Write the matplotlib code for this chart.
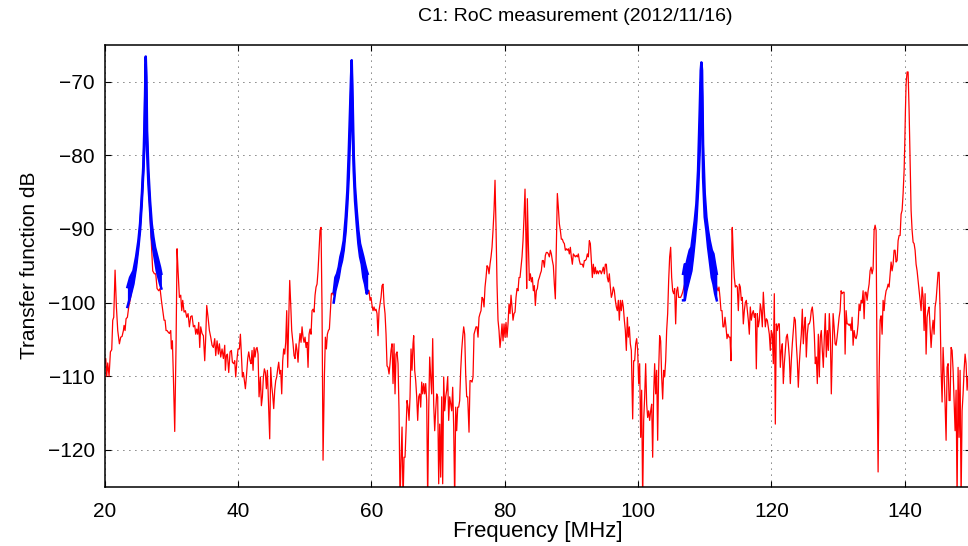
import numpy as np
import matplotlib
matplotlib.use("Agg")
import matplotlib.pyplot as plt

plt.rcParams["font.family"] = ["Liberation Sans", "DejaVu Sans"]

# red trace: broadband transfer function, (MHz, dB)
red_20_38 = [(20.0, -108.3), (20.15, -107.6), (20.3, -110.0), (20.45, -108.2), (20.65, -110.0), (20.85, -106.7),
             (21.05, -106.4), (21.2, -102.4), (21.35, -102.0), (21.55, -95.6), (21.75, -100.6), (21.95, -103.8),
             (22.2, -105.6), (22.4, -104.7), (22.6, -104.6), (22.8, -103.8), (22.9, -103.1), (23.05, -103.8),
             (23.2, -102.2), (23.4, -102.0), (23.6, -100.6), (23.8, -99.7), (24.05, -98.4), (24.3, -97.2),
             (24.55, -96.1), (24.8, -94.5), (25.05, -92.5), (25.25, -90.2), (25.45, -88.0), (25.65, -85.2),
             (25.8, -82.5), (25.95, -78.5), (26.1, -73.9), (26.2, -68.5), (26.35, -76.2), (26.55, -83.0),
             (26.75, -87.5), (26.9, -90.2), (27.05, -92.9), (27.2, -95.7), (27.45, -96.1), (27.65, -96.1),
             (27.85, -98.1), (28.1, -98.4), (28.3, -98.1), (28.5, -99.7), (28.7, -101.1), (28.9, -102.4),
             (29.05, -102.4), (29.2, -103.8), (29.35, -103.8), (29.5, -104.0), (29.7, -104.2), (29.9, -103.8),
             (30.0, -106.3), (30.15, -105.2), (30.3, -110.1), (30.5, -117.5), (30.7, -105.6), (30.85, -92.7),
             (31.0, -95.7), (31.2, -99.3), (31.4, -99.0), (31.55, -101.1), (31.7, -99.7), (31.9, -101.3),
             (32.1, -101.1), (32.3, -102.0), (32.5, -101.5), (32.7, -103.3), (32.9, -101.9), (33.1, -101.8),
             (33.3, -103.3), (33.5, -103.1), (33.65, -104.3), (33.8, -103.6), (33.95, -104.3), (34.1, -102.7),
             (34.25, -106.1), (34.4, -103.3), (34.6, -104.2), (34.8, -104.5), (35.0, -107.9), (35.15, -104.7),
             (35.3, -100.4), (35.5, -102.0), (35.7, -103.8), (35.9, -104.7), (36.1, -105.8), (36.3, -106.1),
             (36.5, -104.9), (36.65, -107.2), (36.85, -105.2), (37.05, -107.0), (37.2, -105.6), (37.4, -107.4),
             (37.6, -106.3), (37.8, -107.6), (38.0, -105.8)]

red_38_54 = [(38.1, -109.2), (38.25, -107.2), (38.4, -107.0), (38.6, -109.5), (38.8, -106.7), (39.0, -106.5),
             (39.15, -108.1), (39.35, -108.3), (39.5, -107.9), (39.65, -110.1), (39.85, -107.6), (40.0, -106.3),
             (40.2, -106.3), (40.35, -104.3), (40.5, -107.0), (40.65, -110.1), (40.8, -109.5), (40.95, -110.6),
             (41.1, -111.7), (41.25, -110.1), (41.45, -107.6), (41.6, -106.7), (41.8, -107.9), (41.95, -108.3),
             (42.1, -106.5), (42.25, -109.2), (42.4, -106.1), (42.55, -107.4), (42.7, -106.3), (42.85, -106.1),
             (43.0, -107.0), (43.15, -112.8), (43.35, -110.1), (43.5, -114.0), (43.65, -112.8), (43.8, -110.1),
             (43.95, -109.0), (44.1, -109.5), (44.25, -111.7), (44.4, -109.2), (44.55, -113.1), (44.75, -118.5),
             (44.9, -108.8), (45.05, -111.3), (45.2, -112.6), (45.35, -114.4), (45.5, -111.9), (45.65, -110.6),
             (45.8, -110.1), (45.95, -109.0), (46.1, -108.1), (46.25, -109.7), (46.4, -109.2), (46.55, -112.4),
             (46.7, -107.9), (46.85, -106.3), (47.0, -107.0), (47.15, -105.4), (47.3, -101.1), (47.45, -108.8),
             (47.6, -102.4), (47.75, -97.0), (47.9, -100.2), (48.05, -103.8), (48.25, -105.6), (48.4, -107.2),
             (48.55, -107.6), (48.7, -105.6), (48.85, -106.5), (49.0, -108.1), (49.15, -105.6), (49.3, -104.2),
             (49.45, -105.4), (49.6, -103.3), (49.75, -104.7), (49.9, -105.4), (50.05, -104.7), (50.2, -106.1),
             (50.35, -105.4), (50.5, -108.8), (50.65, -104.3), (50.8, -103.6), (50.95, -104.3), (51.1, -101.1),
             (51.25, -100.9), (51.4, -101.3), (51.55, -99.0), (51.7, -97.9), (51.85, -97.5), (52.0, -95.7),
             (52.15, -92.9), (52.3, -90.2), (52.45, -89.8), (52.6, -101.1), (52.75, -121.4), (52.95, -110.1),
             (53.1, -104.7), (53.25, -106.3), (53.4, -104.3), (53.55, -103.8), (53.7, -103.6), (53.85, -101.1),
             (54.0, -98.8), (54.15, -98.7), (54.3, -99.0)]

red_54_75 = [(54.6, -97.5), (55.1, -96.1), (55.6, -93.8), (56.1, -91.1), (56.4, -86.2), (56.6, -82.1),
             (56.8, -76.7), (56.95, -71.7), (57.05, -67.6), (57.2, -73.9), (57.35, -80.7), (57.55, -85.2),
             (57.8, -88.4), (58.05, -91.1), (58.3, -92.9), (58.55, -93.8), (58.8, -95.2), (59.05, -96.1),
             (59.3, -97.5), (59.5, -98.8), (59.65, -98.4), (59.8, -99.7), (59.95, -99.3), (60.1, -100.4),
             (60.25, -101.1), (60.4, -100.6), (60.55, -101.1), (60.7, -100.9), (60.85, -101.5), (61.0, -104.5),
             (61.15, -101.1), (61.3, -100.2), (61.45, -99.3), (61.6, -97.7), (61.75, -97.5), (61.9, -100.2),
             (62.05, -101.5), (62.2, -104.3), (62.35, -108.6), (62.5, -108.8), (62.65, -109.7), (62.8, -108.3),
             (62.95, -106.5), (63.1, -105.6), (63.25, -111.0), (63.4, -105.6), (63.55, -112.4), (63.7, -107.0),
             (63.85, -106.7), (64.0, -108.3), (64.15, -114.7), (64.3, -127.0), (64.45, -121.4), (64.6, -116.9),
             (64.75, -127.0), (64.9, -121.0), (65.05, -121.0), (65.2, -117.4), (65.35, -113.3), (65.5, -114.2),
             (65.65, -116.0), (65.8, -112.8), (65.95, -106.3), (66.1, -109.2), (66.25, -105.6), (66.35, -104.5),
             (66.5, -109.2), (66.65, -110.6), (66.8, -112.8), (66.95, -116.0), (67.1, -112.8), (67.25, -112.4),
             (67.4, -114.2), (67.55, -110.8), (67.7, -112.4), (67.85, -111.0), (68.0, -112.4), (68.15, -111.0),
             (68.3, -113.3), (68.45, -127.0), (68.6, -114.7), (68.75, -107.4), (68.9, -110.1), (69.05, -112.4),
             (69.2, -104.9), (69.35, -113.8), (69.5, -117.4), (69.65, -114.7), (69.8, -112.4), (69.95, -112.8),
             (70.1, -124.6), (70.25, -116.5), (70.4, -123.7), (70.55, -112.8), (70.7, -124.6), (70.85, -110.1),
             (71.0, -114.7), (71.15, -112.8), (71.3, -111.9), (71.45, -110.1), (71.6, -116.0), (71.75, -112.8),
             (71.9, -113.8), (72.05, -114.7), (72.2, -111.5), (72.35, -116.9), (72.5, -127.0), (72.65, -114.2),
             (72.8, -117.4), (72.95, -114.2), (73.1, -114.2), (73.25, -113.3), (73.4, -109.2), (73.55, -106.5),
             (73.7, -104.7), (73.85, -103.3), (74.0, -104.3), (74.15, -109.7), (74.3, -112.8), (74.45, -112.8)]

red_75_93 = [(74.65, -117.6), (74.8, -110.6), (74.95, -110.6), (75.1, -110.8), (75.25, -110.1), (75.4, -104.3),
             (75.55, -103.8), (75.7, -103.3), (75.85, -103.3), (76.0, -104.7), (76.15, -102.0), (76.3, -101.5),
             (76.45, -101.1), (76.6, -99.3), (76.75, -99.5), (76.9, -100.6), (77.05, -97.9), (77.2, -96.6),
             (77.35, -95.0), (77.5, -95.2), (77.65, -96.1), (77.8, -94.8), (77.95, -93.8), (78.1, -92.5),
             (78.25, -90.2), (78.4, -87.5), (78.55, -83.4), (78.7, -89.8), (78.85, -97.5), (79.0, -102.4),
             (79.15, -103.8), (79.3, -106.1), (79.45, -104.7), (79.6, -102.9), (79.75, -105.2), (79.9, -102.9),
             (80.05, -104.7), (80.2, -102.7), (80.35, -104.7), (80.5, -102.9), (80.65, -100.2), (80.8, -101.5),
             (80.95, -99.0), (81.1, -100.6), (81.25, -102.4), (81.4, -101.5), (81.55, -101.3), (81.7, -99.3),
             (81.85, -98.1), (82.0, -98.4), (82.15, -96.6), (82.3, -96.6), (82.45, -95.2), (82.6, -93.8),
             (82.75, -91.6), (82.9, -88.4), (83.05, -84.6), (83.2, -92.0), (83.3, -98.1), (83.4, -85.9),
             (83.55, -92.0), (83.7, -97.0), (83.85, -96.1), (84.0, -97.2), (84.15, -96.6), (84.3, -98.4),
             (84.45, -97.7), (84.6, -100.4), (84.75, -98.4), (84.9, -98.1), (85.05, -97.0), (85.2, -96.6),
             (85.35, -96.1), (85.5, -95.7), (85.65, -94.3), (85.8, -94.3), (85.95, -95.2), (86.1, -93.6),
             (86.25, -93.2), (86.4, -93.2), (86.55, -93.4), (86.7, -93.8), (86.85, -92.9), (87.0, -93.4),
             (87.15, -94.3), (87.3, -95.0), (87.45, -97.5), (87.6, -99.5), (87.75, -92.5), (87.9, -85.2),
             (88.05, -87.1), (88.2, -89.3), (88.35, -90.2), (88.5, -91.4), (88.65, -91.4), (88.8, -91.8),
             (88.95, -92.0), (89.1, -92.9), (89.25, -92.7), (89.4, -92.9), (89.55, -92.7), (89.7, -93.4),
             (89.85, -92.5), (90.0, -93.8), (90.15, -94.8), (90.3, -93.4), (90.45, -93.6), (90.6, -93.8),
             (90.75, -93.6), (90.9, -93.8), (91.05, -93.4), (91.2, -94.3), (91.35, -94.8), (91.5, -94.8),
             (91.65, -94.8), (91.8, -95.2), (91.95, -94.3), (92.1, -94.3), (92.25, -94.1), (92.4, -93.4),
             (92.55, -93.8), (92.7, -91.6), (92.85, -92.0)]

red_93_112 = [(93.0, -94.3), (93.15, -96.6), (93.3, -94.8), (93.45, -96.1), (93.6, -95.2), (93.75, -96.1),
              (93.9, -95.7), (94.05, -96.1), (94.2, -95.7), (94.35, -95.7), (94.5, -96.1), (94.65, -95.7),
              (94.8, -95.2), (94.95, -96.1), (95.1, -94.8), (95.25, -94.8), (95.4, -96.6), (95.55, -97.2),
              (95.7, -96.1), (95.85, -97.9), (96.0, -99.3), (96.15, -98.8), (96.3, -97.9), (96.45, -98.4),
              (96.6, -99.7), (96.75, -100.6), (96.9, -101.1), (97.05, -99.7), (97.2, -102.4), (97.35, -99.7),
              (97.5, -101.1), (97.65, -99.7), (97.8, -100.6), (97.95, -102.4), (98.1, -103.8), (98.25, -106.5),
              (98.4, -102.0), (98.55, -104.7), (98.7, -103.3), (98.85, -105.6), (99.0, -106.5), (99.2, -115.8),
              (99.35, -107.9), (99.5, -107.9), (99.65, -105.6), (99.8, -104.9), (99.95, -106.5), (100.1, -111.0),
              (100.25, -108.3), (100.4, -118.3), (100.55, -111.9), (100.7, -127.0), (100.85, -116.0), (101.0, -112.8),
              (101.15, -108.3), (101.3, -113.8), (101.45, -115.6), (101.6, -114.7), (101.75, -116.0), (101.9, -114.7),
              (102.05, -113.8), (102.2, -121.0), (102.35, -112.4), (102.5, -108.3), (102.65, -112.4), (102.8, -109.2),
              (102.95, -118.7), (103.1, -109.2), (103.25, -104.5), (103.4, -105.2), (103.55, -110.1), (103.7, -113.1),
              (103.85, -109.2), (104.0, -110.1), (104.15, -107.9), (104.3, -103.8), (104.45, -101.5), (104.6, -97.0),
              (104.75, -93.8), (104.9, -92.5), (105.05, -96.6), (105.2, -98.4), (105.35, -98.8), (105.5, -98.1),
              (105.65, -102.9), (105.8, -98.4), (105.95, -97.9), (106.1, -99.3), (106.25, -99.3), (106.4, -99.3),
              (106.55, -99.0), (106.7, -98.6), (107.0, -97.5), (107.5, -95.7), (108.0, -93.8), (108.5, -90.2),
              (109.0, -83.4), (109.3, -76.2), (109.5, -68.5), (109.7, -78.5), (110.0, -86.6), (110.25, -89.3),
              (110.5, -91.4), (110.8, -93.4), (111.07, -94.8), (111.32, -95.7), (111.57, -96.6), (111.82, -97.9)]

red_112_129 = [(112.0, -98.4), (112.15, -97.9), (112.3, -99.3), (112.45, -101.1), (112.6, -101.1), (112.75, -103.3),
               (112.9, -103.3), (113.05, -102.0), (113.2, -103.3), (113.35, -104.9), (113.5, -104.3), (113.65, -104.7),
               (113.8, -104.7), (113.95, -107.9), (114.1, -90.2), (114.15, -89.8), (114.3, -93.8), (114.45, -96.6),
               (114.6, -97.9), (114.75, -97.7), (114.9, -97.9), (115.05, -101.1), (115.2, -97.5), (115.35, -97.9),
               (115.5, -99.7), (115.65, -99.3), (115.8, -102.9), (115.95, -101.1), (116.1, -100.0), (116.25, -99.7),
               (116.4, -101.1), (116.55, -102.4), (116.7, -104.3), (116.85, -100.6), (117.0, -102.4), (117.15, -101.5),
               (117.3, -101.1), (117.45, -102.0), (117.6, -101.5), (117.75, -109.0), (117.9, -101.5), (118.05, -103.3),
               (118.2, -102.4), (118.35, -100.2), (118.5, -101.1), (118.65, -103.3), (118.8, -98.6), (118.95, -101.1),
               (119.1, -103.3), (119.25, -102.2), (119.4, -102.4), (119.55, -103.3), (119.7, -104.3), (119.85, -106.5),
               (120.0, -103.8), (120.15, -104.3), (120.3, -108.3), (120.45, -98.8), (120.6, -116.5), (120.75, -102.9),
               (120.9, -103.8), (121.05, -102.9), (121.2, -102.9), (121.35, -108.8), (121.5, -106.5), (121.65, -105.6),
               (121.8, -111.0), (121.95, -108.3), (122.1, -106.5), (122.25, -104.7), (122.4, -104.3), (122.55, -105.6),
               (122.7, -107.4), (122.85, -111.0), (123.0, -107.9), (123.15, -105.6), (123.3, -103.8), (123.45, -102.0),
               (123.6, -102.4), (123.75, -105.6), (123.9, -107.9), (124.05, -111.5), (124.2, -108.3), (124.35, -106.1),
               (124.5, -104.3), (124.65, -100.9), (124.8, -105.6), (124.95, -103.3), (125.1, -102.0), (125.25, -107.4),
               (125.4, -104.3), (125.55, -102.9), (125.7, -102.9), (125.85, -102.4), (126.0, -101.1), (126.15, -100.6),
               (126.3, -102.0), (126.45, -104.3), (126.6, -108.3), (126.75, -107.4), (126.9, -111.0), (127.05, -104.3),
               (127.2, -110.1), (127.35, -104.7), (127.5, -103.8), (127.65, -106.5), (127.8, -108.8), (127.95, -104.7),
               (128.1, -101.5), (128.25, -107.4), (128.4, -103.8), (128.55, -106.5), (128.7, -101.5), (128.85, -104.3),
               (129.0, -112.4)]

red_129_150 = [(129.27, -101.5), (129.42, -103.3), (129.57, -105.6), (129.72, -105.8), (129.87, -104.7), (130.02, -103.3),
               (130.17, -102.0), (130.32, -101.1), (130.47, -98.4), (130.62, -98.8), (130.77, -98.6), (130.92, -98.6),
               (131.07, -107.0), (131.22, -101.1), (131.37, -102.9), (131.52, -102.9), (131.67, -103.1), (131.82, -102.9),
               (131.97, -103.8), (132.12, -102.0), (132.27, -105.8), (132.42, -103.8), (132.57, -104.7), (132.72, -104.9),
               (132.87, -104.3), (133.02, -102.9), (133.17, -100.2), (133.32, -101.1), (133.47, -99.7), (133.62, -100.0),
               (133.77, -98.4), (133.92, -102.2), (134.07, -98.6), (134.22, -98.6), (134.37, -99.7), (134.52, -98.4),
               (134.67, -97.5), (134.82, -95.7), (134.97, -95.2), (135.12, -96.1), (135.27, -95.4), (135.42, -90.2),
               (135.57, -89.5), (135.72, -90.2), (135.87, -110.1), (136.02, -123.0), (136.17, -110.1), (136.32, -102.4),
               (136.47, -101.8), (136.62, -104.3), (136.77, -99.7), (136.92, -101.1), (137.07, -99.3), (137.22, -98.4),
               (137.37, -98.1), (137.52, -97.5), (137.67, -97.9), (137.82, -96.1), (137.97, -94.5), (138.12, -95.7),
               (138.27, -94.8), (138.42, -92.9), (138.57, -92.9), (138.72, -94.5), (138.87, -94.3), (139.02, -91.6),
               (139.17, -90.9), (139.32, -90.9), (139.47, -88.0), (139.62, -87.5), (139.77, -85.2), (139.92, -82.1),
               (140.02, -78.5), (140.12, -73.9), (140.22, -70.3), (140.37, -68.7), (140.52, -68.7), (140.67, -73.9),
               (140.82, -80.7), (140.97, -87.5), (141.12, -90.2), (141.27, -91.8), (141.42, -92.0), (141.57, -92.9),
               (141.72, -94.8), (141.87, -95.7), (142.02, -97.0), (142.17, -98.4), (142.32, -99.7), (142.47, -101.1),
               (142.62, -97.9), (142.77, -99.3), (142.92, -103.8), (143.07, -98.8), (143.22, -107.0), (143.37, -102.0),
               (143.52, -101.1), (143.67, -100.6), (143.82, -103.3), (143.97, -106.1), (144.12, -103.8), (144.27, -102.4),
               (144.42, -104.3), (144.57, -100.6), (144.72, -99.7), (144.87, -97.9), (145.02, -95.9), (145.17, -95.9),
               (145.32, -101.1), (145.47, -109.2), (145.62, -113.5), (145.77, -106.1), (145.92, -109.7), (146.07, -113.8),
               (146.22, -118.7), (146.37, -108.8), (146.52, -108.3), (146.67, -113.3), (146.82, -113.3), (146.97, -106.1),
               (147.12, -106.5), (147.27, -109.2), (147.42, -113.3), (147.57, -117.4), (147.72, -111.9), (147.87, -127.0),
               (148.02, -108.8), (148.17, -118.3), (148.32, -109.2), (148.47, -127.0), (148.62, -114.7), (148.77, -112.4),
               (148.92, -109.2), (149.07, -107.0), (149.22, -108.3), (149.37, -111.9), (149.52, -110.1), (149.8, -111.5),
               (150.0, -110.5)]

# blue traces: fine sweeps around the three resonances (band between upper and lower edge)
blue1_f = [23.4, 23.8, 24.3, 24.7, 25.05, 25.3, 25.55, 25.8, 25.95, 26.05, 26.15, 26.25, 26.35, 26.55,
           26.8, 27.05, 27.3, 27.55, 27.8, 28.05, 28.3, 28.5]
blue1_hi = [-97.9, -96.6, -95.7, -93.8, -91.6, -89.3, -85.7, -81.2, -76.2, -71.7, -66.6, -69.4, -76.7, -82.1,
            -86.2, -89.3, -91.1, -92.5, -93.4, -94.3, -95.2, -96.1]
blue1_lo = [-100.6, -99.3, -97.5, -95.2, -92.5, -90.2, -86.6, -82.1, -78.5, -73.9, -67.6, -73.9, -79.4, -83.9,
            -87.5, -91.1, -92.9, -94.3, -95.7, -96.6, -97.5, -98.1]

blue2_f = [54.35, 54.6, 54.85, 55.1, 55.35, 55.6, 55.85, 56.15, 56.4, 56.6, 56.8, 56.95, 57.05, 57.2,
           57.35, 57.55, 57.8, 58.05, 58.3, 58.55, 58.8, 59.05, 59.3, 59.45]
blue2_hi = [-98.6, -96.6, -96.1, -95.2, -93.8, -92.9, -91.6, -88.4, -84.8, -79.8, -73.9, -69.4, -67.1, -73.0,
            -79.8, -84.3, -87.5, -90.2, -92.0, -92.9, -93.8, -94.8, -95.7, -96.1]
blue2_lo = [-100.0, -98.4, -97.5, -96.6, -95.2, -94.3, -92.9, -90.2, -86.6, -83.0, -77.6, -72.1, -68.5, -76.7,
            -82.1, -86.2, -89.3, -92.0, -93.8, -94.8, -96.6, -97.5, -98.8, -98.4]

blue3_f = [106.76, 107.01, 107.26, 107.51, 107.76, 108.01, 108.26, 108.51, 108.76, 109.01, 109.26, 109.41,
           109.51, 109.61, 109.76, 110.01, 110.26, 110.51, 110.76, 111.07, 111.32, 111.57, 111.82]
blue3_hi = [-96.1, -94.8, -94.8, -93.8, -92.9, -92.5, -90.7, -88.9, -86.6, -82.1, -73.9, -68.5,
            -67.4, -68.5, -78.5, -85.2, -88.4, -90.2, -91.6, -92.9, -93.4, -94.8, -96.1]
blue3_lo = [-99.7, -99.7, -98.4, -97.5, -96.6, -95.7, -93.8, -91.6, -88.9, -84.8, -79.4, -71.7,
            -69.0, -72.1, -83.0, -88.4, -90.2, -92.5, -94.3, -96.6, -97.5, -98.8, -99.7]

red = np.array(red_20_38 + red_38_54 + red_54_75 + red_75_93 + red_93_112 + red_112_129 + red_129_150)

fig = plt.figure(figsize=(9.68, 5.46), dpi=100)
ax = fig.add_axes([0.1082, 0.1086, 0.8952, 0.8095])

ax.plot(red[:, 0], red[:, 1], color="#ff0000", lw=0.9, zorder=2)

for f, hi, lo in [(blue1_f, blue1_hi, blue1_lo), (blue2_f, blue2_hi, blue2_lo), (blue3_f, blue3_hi, blue3_lo)]:
    ax.fill_between(f, lo, hi, color="#0000ff", lw=0, zorder=3)
    ax.plot(f, hi, color="#0000ff", lw=1.8, zorder=3)
    ax.plot(f, lo, color="#0000ff", lw=1.8, zorder=3)

ax.set_xlim(20, 150)
ax.set_ylim(-125, -65)
ax.set_xticks([20, 40, 60, 80, 100, 120, 140])
ax.set_yticks([-120, -110, -100, -90, -80, -70])

ax.grid(True, color="black", lw=0.6, linestyle=(0, (1, 6.2)))
ax.set_axisbelow(True)
ax.tick_params(direction="in", length=4.5, width=0.8, top=True, right=True, labelsize=15)
ax.tick_params(axis="x", pad=11)
ax.tick_params(axis="y", pad=7)
for sp in ax.spines.values():
    sp.set_linewidth(1.1)

ax.set_xlabel("Frequency [MHz]", fontsize=16, labelpad=0)
ax.set_ylabel("Transfer function dB", fontsize=15, labelpad=6)
ax.set_title("C1: RoC measurement (2012/11/16)", fontsize=14, pad=17, x=0.543)

fig.savefig("out.png", dpi=100)
